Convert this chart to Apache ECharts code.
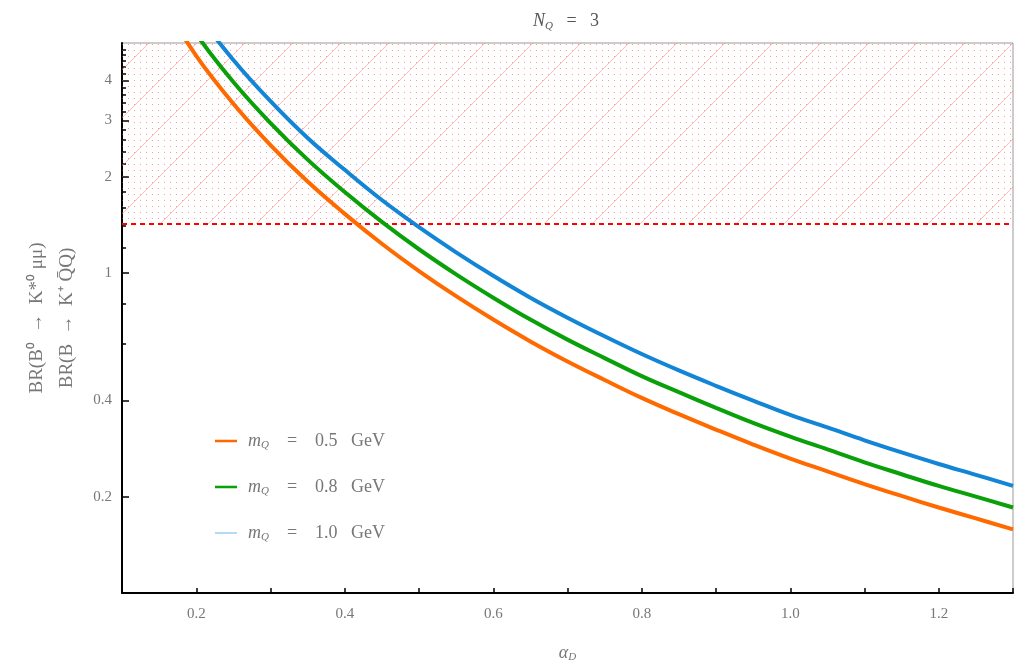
<!DOCTYPE html>
<html>
<head>
<meta charset="utf-8">
<script src="https://cdn.jsdelivr.net/npm/echarts@6/dist/echarts.min.js"></script>
<style>
html,body{margin:0;padding:0;background:#fff}
#chart{width:1021px;height:664px}
</style>
</head>
<body>
<div id="chart"></div>
<script>
// alpha_D sample points
var alphaD = [0.15, 0.2, 0.25, 0.3, 0.35, 0.4, 0.45, 0.5, 0.55, 0.6, 0.65, 0.7,
  0.75, 0.8, 0.85, 0.9, 0.95, 1.0, 1.05, 1.1, 1.15, 1.2, 1.25, 1.3]
var brM05 = [7.3, 4.77, 3.38, 2.51, 1.93, 1.53, 1.234, 1.014, 0.846, 0.715, 0.611, 0.529,
  0.463, 0.407, 0.362, 0.324, 0.291, 0.263, 0.240, 0.219, 0.201, 0.185, 0.171, 0.158]
var brM08 = [8.54, 5.58, 3.95, 2.94, 2.26, 1.79, 1.444, 1.186, 0.99, 0.837, 0.715, 0.619,
  0.542, 0.476, 0.424, 0.379, 0.34, 0.308, 0.281, 0.256, 0.235, 0.216, 0.2, 0.185]
var brM10 = [10.0, 6.53, 4.63, 3.44, 2.64, 2.10, 1.69, 1.39, 1.16, 0.98, 0.837, 0.725,
  0.634, 0.558, 0.496, 0.444, 0.399, 0.36, 0.329, 0.30, 0.275, 0.253, 0.234, 0.216]
var massLabels = ['0.5', '0.8', '1.0']
var bound = 1.42 // excluded above
var xLabels = [0.2, 0.4, 0.6, 0.8, 1.0, 1.2]
var yLabels = [0.2, 0.4, 1, 2, 3, 4]
var yMinor = [0.6, 0.8, 1.2, 1.4, 1.6, 1.8, 2.2, 2.4, 2.6, 2.8, 3.2, 3.4, 3.6, 3.8, 4.2, 4.4, 4.6, 4.8, 5.0]
var yMin = 0.1, yMax = 5.23

function pairs(ys) {
  return alphaD.map(function (x, i) { return [x, ys[i]] })
}

// hatch tile for the excluded region
var tile = document.createElement('canvas')
tile.width = 48; tile.height = 48
var c = tile.getContext('2d')
c.fillStyle = 'rgba(255,60,60,0.5)'
for (var i = 0; i < 8; i++) {
  for (var j = 0; j < 8; j++) {
    c.fillRect(i * 6 + 2, j * 6 + 2, 1, 1)
  }
}
c.strokeStyle = 'rgba(255,110,110,0.45)'
c.lineWidth = 1
c.beginPath(); c.moveTo(0, 48); c.lineTo(48, 0); c.stroke()

var font = 'Liberation Serif'
var grey = '#777'
var colors = ['#ff6a00', '#0aa00a', '#1285d6']

var echart = echarts.init(document.getElementById('chart'))
var option = {
  animation: false,
  textStyle: { fontFamily: font },
  title: {
    text: '{i|N}{s|Q}{n|   =   3}',
    left: 528,
    top: 6,
    textStyle: {
      rich: {
        i: { fontFamily: font, fontStyle: 'italic', fontWeight: 'normal', fontSize: 18, color: '#555' },
        s: { fontFamily: font, fontStyle: 'italic', fontWeight: 'normal', fontSize: 11, color: '#555', padding: [10, 0, 0, 0] },
        n: { fontFamily: font, fontWeight: 'normal', fontSize: 18, color: '#555' }
      }
    }
  },
  grid: {
    left: 122, right: 8, top: 43, bottom: 71,
    containLabel: false,
    outerBoundsMode: 'none',
    show: true, borderColor: '#999', borderWidth: 1, backgroundColor: 'transparent'
  },
  legend: {
    orient: 'vertical',
    left: 210,
    top: 427,
    itemGap: 27,
    itemWidth: 22,
    itemHeight: 3,
    data: [
      { name: massLabels[0], icon: 'path://M0,0H26V3H0Z' },
      { name: massLabels[1], icon: 'path://M0,0H26V3H0Z' },
      { name: massLabels[2], icon: 'path://M0,0H26V1H0Z', itemStyle: { color: '#4fa8e6' } }
    ],
    formatter: function (name) {
      return '{i|m}{s|Q}{n|    =    ' + name + '   GeV}'
    },
    textStyle: {
      rich: {
        i: { fontFamily: font, fontStyle: 'italic', fontSize: 18, color: grey, padding: [0, 0, 0, 6] },
        s: { fontFamily: font, fontStyle: 'italic', fontSize: 11, color: grey, padding: [9, 0, 0, 0] },
        n: { fontFamily: font, fontSize: 18, color: grey }
      }
    }
  },
  xAxis: {
    type: 'value',
    min: 0.1,
    max: 1.3,
    interval: 0.1,
    name: '{i|α}{s|D}',
    nameLocation: 'middle',
    nameGap: 50,
    nameTextStyle: {
      rich: {
        i: { fontFamily: font, fontStyle: 'italic', fontSize: 18, color: grey },
        s: { fontFamily: font, fontStyle: 'italic', fontSize: 11, color: grey, padding: [9, 0, 0, 0] }
      }
    },
    axisLine: { show: true, lineStyle: { color: '#000', width: 2 } },
    axisTick: { inside: true, length: 5, lineStyle: { color: '#000', width: 1.5 } },
    axisLabel: {
      customValues: xLabels,
      margin: 14,
      color: grey,
      fontFamily: font,
      fontSize: 15,
      formatter: function (v) { return v.toFixed(1) }
    },
    splitLine: { show: false }
  },
  yAxis: [{
    type: 'log',
    logBase: 10,
    min: yMin,
    max: yMax,
    name: 'BR(B⁰  →  K*⁰ μμ)\nBR(B  →  K⁺ Q̄Q)',
    nameLocation: 'middle',
    nameRotate: 90,
    nameGap: 39,
    nameTextStyle: { color: grey, fontFamily: font, fontSize: 19, lineHeight: 30 },
    axisLine: { show: true, lineStyle: { color: '#000', width: 2 } },
    axisTick: { inside: true, length: 7, customValues: yLabels, lineStyle: { color: '#000', width: 1.5 } },
    axisLabel: {
      customValues: yLabels,
      margin: 10,
      color: grey,
      fontFamily: font,
      fontSize: 15,
      formatter: function (v) { return String(+(+v).toPrecision(3)) }
    },
    splitLine: { show: false }
  }, {
    type: 'log',
    logBase: 10,
    min: yMin,
    max: yMax,
    position: 'left',
    axisLine: { show: false },
    axisTick: { show: true, inside: true, length: 4, customValues: yMinor, lineStyle: { color: '#000', width: 1.5 } },
    axisLabel: { show: false },
    splitLine: { show: false }
  }],
  series: [
    {
      name: massLabels[0],
      type: 'line',
      data: pairs(brM05),
      smooth: 0.4,
      symbol: 'none',
      color: colors[0],
      lineStyle: { width: 4, color: colors[0] },
      z: 5,
      markArea: {
        silent: true,
        itemStyle: { color: { image: tile, repeat: 'repeat' } },
        data: [[{ yAxis: bound }, { yAxis: yMax }]]
      },
      markLine: {
        silent: true,
        symbol: 'none',
        label: { show: false },
        lineStyle: { color: '#ff0000', width: 2, type: [5, 4] },
        data: [{ yAxis: bound }]
      }
    },
    {
      name: massLabels[1],
      type: 'line',
      data: pairs(brM08),
      smooth: 0.4,
      symbol: 'none',
      color: colors[1],
      lineStyle: { width: 4, color: colors[1] },
      z: 5
    },
    {
      name: massLabels[2],
      type: 'line',
      data: pairs(brM10),
      smooth: 0.4,
      symbol: 'none',
      color: colors[2],
      lineStyle: { width: 4, color: colors[2] },
      z: 5
    }
  ]
}
echart.setOption(option)
</script>
</body>
</html>
